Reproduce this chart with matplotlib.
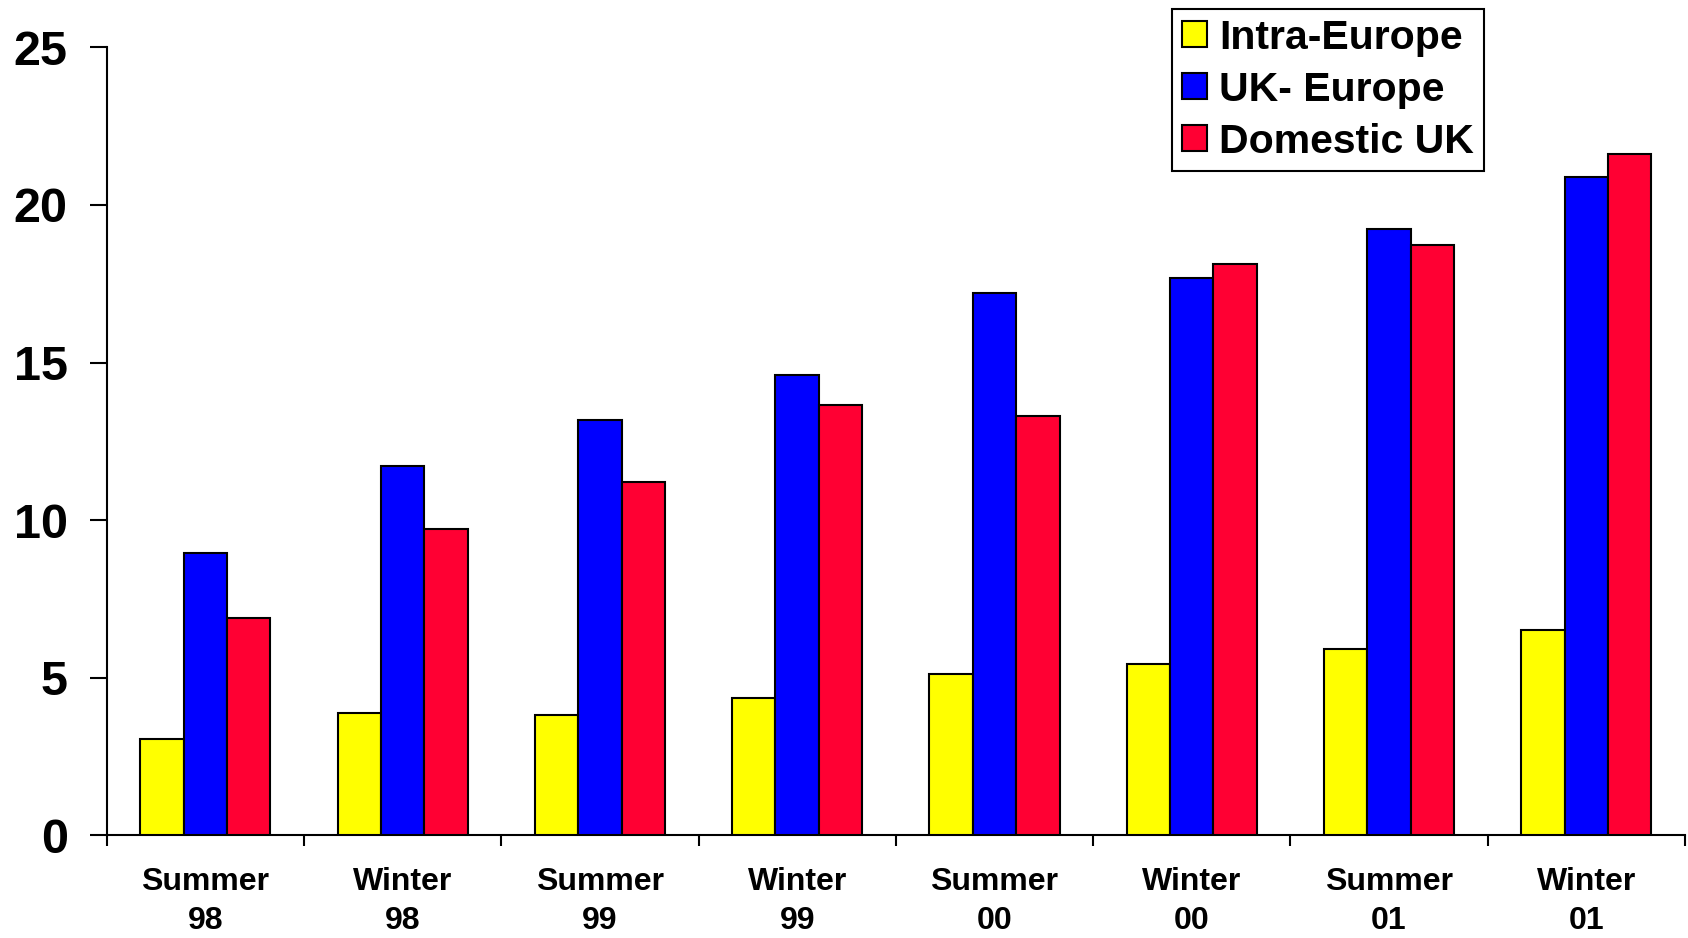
import numpy as np
import matplotlib
matplotlib.use("Agg")
import matplotlib.pyplot as plt

# Seasons shown on the x axis (two-line labels)
seasons = ["Summer\n98", "Winter\n98", "Summer\n99", "Winter\n99",
           "Summer\n00", "Winter\n00", "Summer\n01", "Winter\n01"]

intra_europe = [3.07, 3.89, 3.83, 4.37, 5.12, 5.43, 5.91, 6.52]
uk_europe = [8.95, 11.71, 13.18, 14.62, 17.21, 17.69, 19.23, 20.90]
domestic_uk = [6.90, 9.73, 11.20, 13.66, 13.32, 18.14, 18.72, 21.62]

series = [
    ("Intra-Europe", intra_europe, "#FFFF00"),
    ("UK- Europe", uk_europe, "#0000FF"),
    ("Domestic UK", domestic_uk, "#FF0033"),
]

plt.rcParams["font.family"] = ["Liberation Sans", "DejaVu Sans"]
plt.rcParams["font.weight"] = "bold"

fig = plt.figure(figsize=(16.88, 9.38), dpi=100)
ax = fig.add_axes([0.0632, 0.1094, 0.935, 0.8401])

x = np.arange(len(seasons))
width = 0.22
for i, (name, vals, color) in enumerate(series):
    ax.bar(x + (i - 1) * width, vals, width, color=color,
           edgecolor="black", linewidth=1.5, label=name, zorder=3)

ax.set_xlim(-0.5, len(seasons) - 0.5)
ax.set_ylim(0, 25)
ax.set_yticks([0, 5, 10, 15, 20, 25])

# category boundaries get the tick marks, centres get the labels
ax.set_xticks(np.arange(-0.5, len(seasons), 1.0))
ax.set_xticklabels([])
ax.set_xticks(x, minor=True)
ax.set_xticklabels(seasons, minor=True, fontsize=23, fontweight="bold",
                   linespacing=1.36)
ax.tick_params(axis="x", which="major", length=8, width=1.5, direction="out")
ax.tick_params(axis="x", which="minor", length=0, pad=23)
ax.tick_params(axis="y", length=12, width=1.5, pad=16, labelsize=35)
for lbl in ax.get_yticklabels():
    lbl.set_fontweight("bold")

for side in ("top", "right"):
    ax.spines[side].set_visible(False)
for side in ("left", "bottom"):
    ax.spines[side].set_linewidth(1.5)

leg = ax.legend(loc="upper left", bbox_to_anchor=(1172 / 1688, 1 - 8.6 / 938),
                bbox_transform=fig.transFigure,
                prop={"weight": "bold", "size": 29.5},
                fancybox=False, shadow=False, framealpha=1,
                handlelength=0.6, handleheight=0.6, handletextpad=0.3,
                borderpad=0.25, labelspacing=0.34, borderaxespad=0)
leg.get_frame().set_edgecolor("black")
leg.get_frame().set_linewidth(1.5)

fig.savefig("out.png", dpi=100)
plt.close(fig)
